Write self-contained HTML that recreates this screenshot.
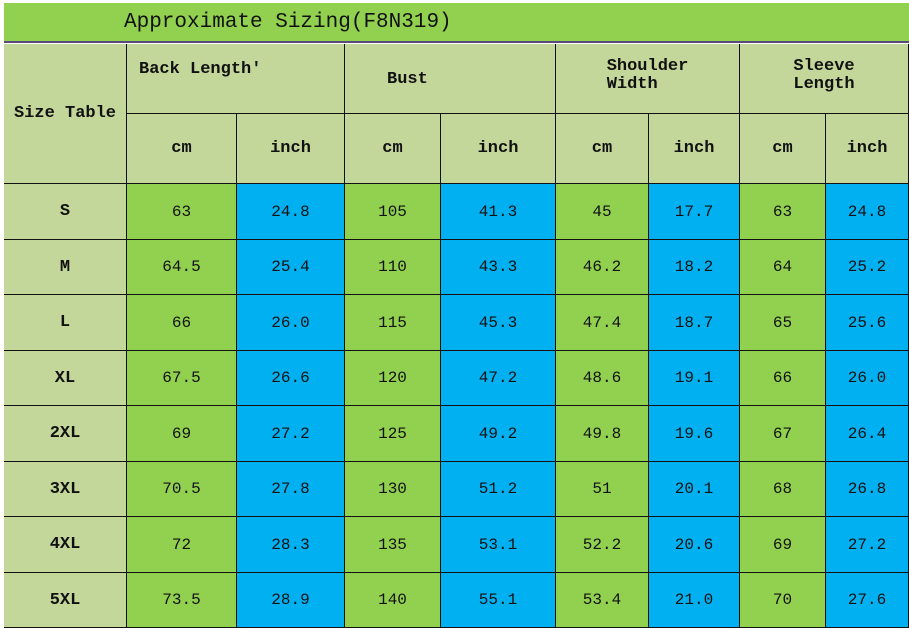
<!DOCTYPE html>
<html><head><meta charset="utf-8"><style>
body{margin:0;width:909px;height:626px;background:#fff;position:relative;overflow:hidden;font-family:"Liberation Mono","Noto Serif CJK SC",monospace;color:#111}
.c{position:absolute;box-sizing:border-box;display:flex;align-items:center;justify-content:center;border-right:1.5px solid #111;border-bottom:1.5px solid #111;font-size:16px}
.h{background:#C4D79B;font-weight:bold;font-size:17px}
.g{background:#92D050}.b{background:#00B0F0}
.t{position:absolute;left:4px;top:3px;width:905px;height:40px;background:#92D050;border-bottom:2px solid #5a4a7a;font-size:21px;padding-left:120px;box-sizing:border-box;line-height:40px}
</style></head><body>
<div class="t">Approximate Sizing(F8N319)</div>
<div id="g"></div>
<script>
var xs=[4,127,237,345,441,556,649,740,826,909];
var ys=[184,240,295,351,406,462,517,573,628];
var h='';
function cell(x0,x1,y0,y1,cls,txt,st){h+='<div class="c '+cls+'" style="left:'+x0+'px;top:'+y0+'px;width:'+(x1-x0)+'px;height:'+(y1-y0)+'px;'+(st||'')+'">'+txt+'</div>';}
cell(4,127,44,184,'h','Size Table');
var heads=['Back Length\'','Bust','Shoulder<br>Width','Sleeve<br>Length'];
var al=['justify-content:flex-start;align-items:flex-start;padding:16px 0 0 12px','justify-content:flex-start;align-items:flex-start;padding:26px 0 0 42px','align-items:flex-start;padding-top:14px;line-height:18px','align-items:flex-start;padding-top:14px;line-height:18px'];
for(var i=0;i<4;i++){cell(xs[1+2*i],xs[3+2*i],44,114,'h',heads[i],al[i]);cell(xs[1+2*i],xs[2+2*i],114,184,'h','cm');cell(xs[2+2*i],xs[3+2*i],114,184,'h','inch');}
var rows=[['S','63','24.8','105','41.3','45','17.7','63','24.8'],['M','64.5','25.4','110','43.3','46.2','18.2','64','25.2'],['L','66','26.0','115','45.3','47.4','18.7','65','25.6'],['XL','67.5','26.6','120','47.2','48.6','19.1','66','26.0'],['2XL','69','27.2','125','49.2','49.8','19.6','67','26.4'],['3XL','70.5','27.8','130','51.2','51','20.1','68','26.8'],['4XL','72','28.3','135','53.1','52.2','20.6','69','27.2'],['5XL','73.5','28.9','140','55.1','53.4','21.0','70','27.6']];
for(var r=0;r<8;r++){for(var c=0;c<9;c++){cell(xs[c],xs[c+1],ys[r],ys[r+1],c==0?'h':(c%2?'g':'b'),rows[r][c]);}}
document.getElementById('g').innerHTML=h;
</script>
</body></html>
